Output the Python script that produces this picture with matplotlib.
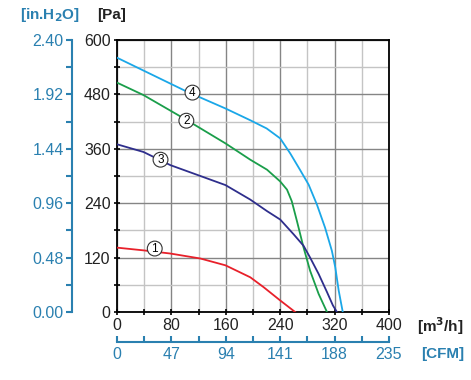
import numpy as np
import matplotlib.pyplot as plt
from matplotlib.ticker import MultipleLocator

plt.rcParams['font.family'] = ['Liberation Sans', 'DejaVu Sans']

# fan curves: flow in m3/h, pressure in Pa
flow_1 = [0, 39, 78.5, 122.7, 159.5, 196, 215.7, 240, 262]
pres_1 = [142, 136, 129, 118, 103, 76.6, 54.7, 25.5, 0]

flow_2 = [0, 39, 103, 159.5, 196, 220.6, 240, 250, 257, 264.6, 274.4, 284, 296.5, 308.8]
pres_2 = [506, 478.5, 423, 372, 336, 314, 288, 270, 244.5, 200.7, 142, 91, 40, 0]

flow_3 = [0, 39, 78.5, 122.7, 159.5, 196, 220.6, 240, 259.7, 274.4, 284, 296.5, 308.8,
          317.5, 323.4]
pres_3 = [370, 353, 324, 300, 280, 248, 222.6, 204, 171.5, 146, 120, 84, 44, 14.6, 0]

flow_4 = [0, 103, 159.5, 196, 220, 240, 254.7, 269, 281.8, 294, 306, 316, 321, 326, 332]
pres_4 = [561, 486, 449, 423, 405, 383, 350, 314, 281, 237, 186, 135, 98.5, 47.5, 0]

labels = ['1', '2', '3', '4']
label_xy = [(55.5, 140), (102, 422), (64, 336), (111, 484)]
colors = ['#e8202a', '#1a9e4a', '#2e2e8c', '#1aa7e8']

PA_PER_INH2O = 250.0
CFM_PER_M3H = 235.0 / 400.0
blue = '#2a80b0'

fig = plt.figure(figsize=(4.71, 3.80), dpi=100)
ax = fig.add_axes([0.2484, 0.1789, 0.5775, 0.7158])

ax.set_xlim(0, 400)
ax.set_ylim(0, 600)
ax.xaxis.set_major_locator(MultipleLocator(80))
ax.xaxis.set_minor_locator(MultipleLocator(40))
ax.yaxis.set_major_locator(MultipleLocator(120))
ax.yaxis.set_minor_locator(MultipleLocator(60))
ax.grid(which='major', color='#858585', lw=1.0)
ax.grid(which='minor', color='#c4c4c4', lw=1.0)
ax.set_axisbelow(True)
for s in ax.spines.values():
    s.set_linewidth(1.3)
ax.tick_params(which='both', direction='inout', length=5, width=1.2,
               labelsize=11.5, pad=2, labelcolor='#222222')

series = [(flow_1, pres_1), (flow_2, pres_2), (flow_3, pres_3), (flow_4, pres_4)]
for (f, p), c in zip(series, colors):
    ax.plot(f, p, color=c, lw=1.3, zorder=3)

for lab, (x, y) in zip(labels, label_xy):
    ax.text(x, y, lab, fontsize=8.5, ha='center', va='center', zorder=5,
            bbox=dict(boxstyle='circle,pad=0.12', fc='white', ec='#333333', lw=0.8))

# secondary scales
sy = ax.secondary_yaxis(-0.165, functions=(lambda p: p / PA_PER_INH2O,
                                           lambda h: h * PA_PER_INH2O))
sy.set_yticks(np.arange(0, 2.41, 0.48))
sy.yaxis.set_minor_locator(MultipleLocator(0.24))
sy.yaxis.set_major_formatter(plt.FormatStrFormatter('%.2f'))
sy.spines['left'].set_color(blue)
sy.spines['left'].set_linewidth(1.5)
sy.tick_params(which='both', colors=blue, labelcolor=blue, length=4, width=1.5,
               labelsize=11.5, pad=2)

sx = ax.secondary_xaxis(-0.109, functions=(lambda q: q * CFM_PER_M3H,
                                           lambda c: c / CFM_PER_M3H))
sx.set_xticks([0, 47, 94, 141, 188, 235])
sx.set_xticks([23.5, 70.5, 117.5, 164.5, 211.5], minor=True)
sx.spines['bottom'].set_color(blue)
sx.spines['bottom'].set_linewidth(1.5)
sx.tick_params(which='both', direction='in', colors=blue, labelcolor=blue,
               length=4, width=1.5, labelsize=11.5, pad=4)

fig.text(50 / 471, 1 - 15 / 380, '[in.H$_\\mathbf{2}$O]', color=blue, fontsize=11,
         fontweight='bold', ha='center', va='center')
fig.text(112 / 471, 1 - 15 / 380, '[Pa]', color='#222222', fontsize=11,
         fontweight='bold', ha='center', va='center')
fig.text(440 / 471, 1 - 326 / 380, '[m$^\\mathbf{3}$/h]', color='#222222', fontsize=11,
         fontweight='bold', ha='center', va='center')
fig.text(443 / 471, 1 - 354 / 380, '[CFM]', color=blue, fontsize=11,
         fontweight='bold', ha='center', va='center')

fig.savefig('out.png', dpi=100)
